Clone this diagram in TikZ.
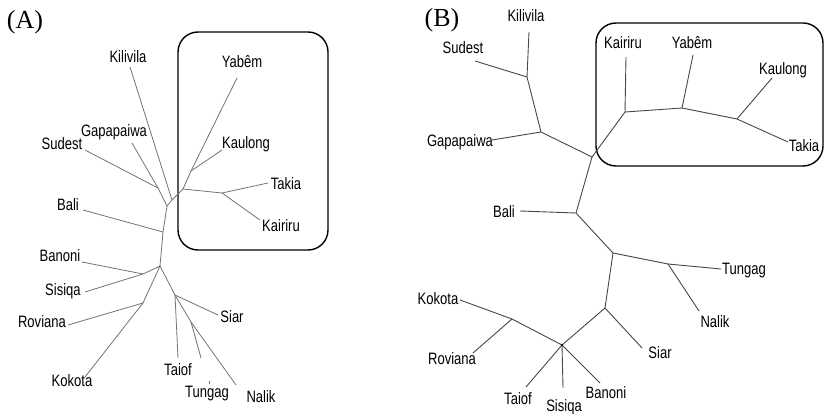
\documentclass[tikz,border=0pt]{standalone}
\usepackage{fontspec}
\setmainfont{Liberation Serif}
\newfontfamily\labfont[FakeStretch=0.79]{Liberation Sans}
\begin{document}
\begin{tikzpicture}[x=1pt,y=-1pt,
  lab/.style={font=\labfont\fontsize{16.5}{17}\selectfont, inner sep=0pt, text height=11.8pt, text depth=0pt},
  edgeA/.style={draw=black!55, line width=0.8pt},
  edgeB/.style={draw=black!72, line width=0.9pt},
  clade/.style={draw=black, line width=1.4pt, rounded corners=20pt},
  panel/.style={font=\fontsize{26}{28}\selectfont, inner sep=0pt}]
\useasboundingbox (0,0) rectangle (826,414);
% ---------------- Panel A ----------------
\node[panel] (pA) at (25,22) {(A)};
\draw[clade] (178,32) rectangle (328,250);
% internal nodes
\coordinate (aYK) at (191,171);
\coordinate (aTK) at (222,193);
\coordinate (aC) at (183,189);
\coordinate (aK) at (172,200);
\coordinate (aSG) at (158,188);
\coordinate (aJ) at (167,206);
\coordinate (aBa) at (163,232);
\coordinate (aM) at (160,266);
\coordinate (aBS) at (143,274);
\coordinate (aRK) at (143,303);
\coordinate (aSi) at (175,295);
\coordinate (aTN) at (191,322);
% tips
\coordinate (tAYab) at (237,78);
\coordinate (tAKau) at (222,150);
\coordinate (tATak) at (268,183);
\coordinate (tAKai) at (260,220);
\coordinate (tAKil) at (130,67);
\coordinate (tAGap) at (132,143);
\coordinate (tASud) at (85,150);
\coordinate (tABal) at (83,210);
\coordinate (tABan) at (82,262);
\coordinate (tASis) at (85,292);
\coordinate (tARov) at (68,325);
\coordinate (tAKok) at (85,377);
\coordinate (tASia) at (218,315);
\coordinate (tATai) at (178,358);
\coordinate (tATun) at (201,358);
\coordinate (tANal) at (236,385);
\coordinate (tATk1) at (209,381);
\coordinate (tATk2) at (209,384);
% labels
\node[lab] (lAKil) at (128,57) {Kilivila};
\node[lab] (lAGap) at (114,131) {Gapapaiwa};
\node[lab] (lASud) at (62,144) {Sudest};
\node[lab] (lAYab) at (242,62) {Yabêm};
\node[lab] (lAKau) at (246,143) {Kaulong};
\node[lab] (lATak) at (286,184) {Takia};
\node[lab] (lAKai) at (281,226) {Kairiru};
\node[lab] (lABal) at (68,205) {Bali};
\node[lab] (lABan) at (60,256) {Banoni};
\node[lab] (lASis) at (63,290) {Sisiqa};
\node[lab] (lARov) at (42,322) {Roviana};
\node[lab] (lAKok) at (72,381) {Kokota};
\node[lab] (lASia) at (232,317) {Siar};
\node[lab] (lATai) at (178,370) {Taiof};
\node[lab] (lATun) at (207,392) {Tungag};
\node[lab] (lANal) at (261,397) {Nalik};
% edges
\draw[edgeA] (tAYab) -- (aYK);
\draw[edgeA] (tAKau) -- (aYK);
\draw[edgeA] (aYK) -- (aC);
\draw[edgeA] (aC) -- (aTK);
\draw[edgeA] (aTK) -- (tATak);
\draw[edgeA] (aTK) -- (tAKai);
\draw[edgeA] (aC) -- (aK);
\draw[edgeA] (tAKil) -- (aK);
\draw[edgeA] (aK) -- (aJ);
\draw[edgeA] (aSG) -- (aJ);
\draw[edgeA] (tASud) -- (aSG);
\draw[edgeA] (tAGap) -- (aSG);
\draw[edgeA] (aJ) -- (aBa);
\draw[edgeA] (tABal) -- (aBa);
\draw[edgeA] (aBa) -- (aM);
\draw[edgeA] (aM) -- (aBS);
\draw[edgeA] (tABan) -- (aBS);
\draw[edgeA] (tASis) -- (aBS);
\draw[edgeA] (aM) -- (aRK);
\draw[edgeA] (tARov) -- (aRK);
\draw[edgeA] (tAKok) -- (aRK);
\draw[edgeA] (aM) -- (aSi);
\draw[edgeA] (tASia) -- (aSi);
\draw[edgeA] (tATai) -- (aSi);
\draw[edgeA] (aSi) -- (aTN);
\draw[edgeA] (aTN) -- (tATun);
\draw[edgeA] (aTN) -- (tANal);
\draw[edgeA] (tATk1) -- (tATk2);
% ---------------- Panel B ----------------
\node[panel] (pB) at (442,20) {(B)};
\draw[clade] (596,23) rectangle (823,166);
% internal nodes
\coordinate (bKS) at (527,77);
\coordinate (bG) at (541,132);
\coordinate (bR) at (592,157);
\coordinate (bKa) at (625,112);
\coordinate (bY) at (682,108);
\coordinate (bKT) at (737,119);
\coordinate (bBa) at (576,213);
\coordinate (bT) at (613,253);
\coordinate (bTN) at (668,264);
\coordinate (bS) at (605,308);
\coordinate (bKR) at (512,319);
\coordinate (bX) at (562,345);
% tips
\coordinate (tBKil) at (529,32);
\coordinate (tBSud) at (475,61);
\coordinate (tBGap) at (492,140);
\coordinate (tBKai) at (626,57);
\coordinate (tBYab) at (693,55);
\coordinate (tBKau) at (772,78);
\coordinate (tBTak) at (788,142);
\coordinate (tBBal) at (520,211);
\coordinate (tBTun) at (721,269);
\coordinate (tBNal) at (699,311);
\coordinate (tBSia) at (642,348);
\coordinate (tBKok) at (460,300);
\coordinate (tBRov) at (473,353);
\coordinate (tBTai) at (526,387);
\coordinate (tBSis) at (563,388);
\coordinate (tBBan) at (600,383);
% labels
\node[lab] (lBKil) at (526,16) {Kilivila};
\node[lab] (lBSud) at (463,48) {Sudest};
\node[lab] (lBGap) at (460,141) {Gapapaiwa};
\node[lab] (lBKai) at (623,43) {Kairiru};
\node[lab] (lBYab) at (692,43) {Yabêm};
\node[lab] (lBKau) at (783,69) {Kaulong};
\node[lab] (lBTak) at (804,146) {Takia};
\node[lab] (lBBal) at (504,212) {Bali};
\node[lab] (lBTun) at (744,269) {Tungag};
\node[lab] (lBNal) at (715,322) {Nalik};
\node[lab] (lBSia) at (660,353) {Siar};
\node[lab] (lBKok) at (438,299) {Kokota};
\node[lab] (lBRov) at (452,359) {Roviana};
\node[lab] (lBTai) at (518,399) {Taiof};
\node[lab] (lBSis) at (564,406) {Sisiqa};
\node[lab] (lBBan) at (606,393) {Banoni};
% edges
\draw[edgeB] (tBKil) -- (bKS);
\draw[edgeB] (tBSud) -- (bKS);
\draw[edgeB] (bKS) -- (bG);
\draw[edgeB] (tBGap) -- (bG);
\draw[edgeB] (bG) -- (bR);
\draw[edgeB] (bR) -- (bKa);
\draw[edgeB] (tBKai) -- (bKa);
\draw[edgeB] (bKa) -- (bY);
\draw[edgeB] (tBYab) -- (bY);
\draw[edgeB] (bY) -- (bKT);
\draw[edgeB] (tBKau) -- (bKT);
\draw[edgeB] (bKT) -- (tBTak);
\draw[edgeB] (bR) -- (bBa);
\draw[edgeB] (tBBal) -- (bBa);
\draw[edgeB] (bBa) -- (bT);
\draw[edgeB] (bT) -- (bTN);
\draw[edgeB] (bTN) -- (tBTun);
\draw[edgeB] (bTN) -- (tBNal);
\draw[edgeB] (bT) -- (bS);
\draw[edgeB] (bS) -- (tBSia);
\draw[edgeB] (bS) -- (bX);
\draw[edgeB] (bX) -- (bKR);
\draw[edgeB] (bKR) -- (tBKok);
\draw[edgeB] (bKR) -- (tBRov);
\draw[edgeB] (bX) -- (tBTai);
\draw[edgeB] (bX) -- (tBSis);
\draw[edgeB] (bX) -- (tBBan);
\fill[black] (bX) circle (1.2pt);
\end{tikzpicture}
\end{document}
